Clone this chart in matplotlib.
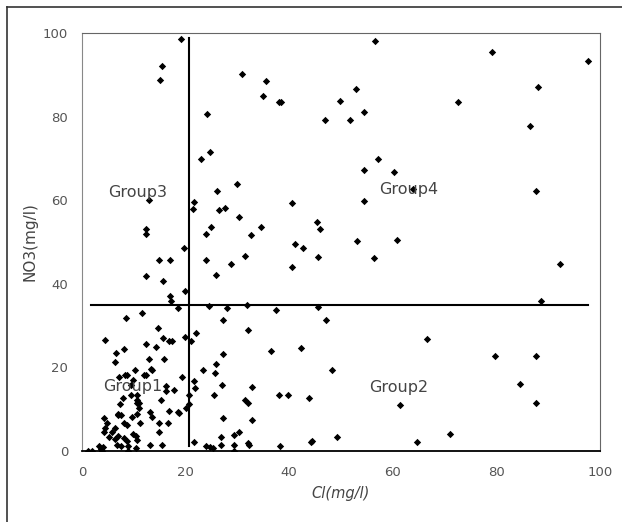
import matplotlib
matplotlib.use("Agg")
import matplotlib.pyplot as plt
from matplotlib.lines import Line2D

# Cl and NO3 concentrations (mg/l) for each sampled well
cl = [19.1, 56.5, 79.2, 97.6, 15.5, 15.1, 30.9, 35.5, 34.9, 38.0, 38.4, 52.9,
      49.8, 72.5, 88.1, 24.2, 54.4, 46.9, 51.8, 86.4, 23.0, 24.7, 57.2, 54.4,
      60.3, 29.9, 26.1, 63.9, 87.7, 13.0, 21.6, 21.4, 26.4, 27.6, 40.5, 54.5,
      12.3, 12.3, 30.4, 24.9, 23.9, 34.6, 32.6, 45.4, 46.0, 53.1, 60.9, 19.6,
      41.2, 42.6, 14.9, 16.9, 23.9, 31.5, 28.7, 45.5, 56.4, 40.5, 92.3, 12.4,
      25.9, 15.6, 19.9, 16.9, 17.2, 88.7,
      18.6, 24.5, 27.9, 31.8, 37.5, 45.6, 11.6, 8.5, 27.3, 47.1, 14.7, 32.1,
      22.1, 4.5, 15.6, 16.8, 17.4, 19.9, 21.0, 66.6, 12.3, 14.2, 8.1, 6.5,
      36.4, 42.2, 27.3, 79.7, 87.6, 6.4, 12.9, 15.9, 25.9, 10.3, 13.3, 13.6,
      23.4, 25.7, 48.3, 7.2, 8.3, 8.6, 11.9, 12.3, 9.9, 19.4, 21.6, 21.9,
      32.9, 84.5, 16.2, 16.3, 17.7, 9.5, 9.4, 10.6, 10.6, 10.6, 8.0, 7.4,
      11.0, 11.1, 20.6, 20.6, 20.0, 25.4, 27.0, 31.4, 32.0, 38.1, 39.8, 43.9,
      61.4, 87.6, 15.2, 16.8, 18.5, 18.7, 13.2, 10.6, 7.0, 6.9, 7.5, 9.6,
      13.6, 4.2, 27.3, 32.9, 4.8, 11.2, 16.7, 14.9, 8.2, 8.7, 6.3, 4.4,
      4.3, 5.8, 6.9, 9.9, 10.5, 10.6, 8.1, 8.6, 14.8, 30.4, 29.4, 26.8,
      49.2, 71.0, 5.2, 6.4, 32.0, 32.2, 21.7, 44.2, 44.5, 64.7, 38.3, 24.0,
      24.7, 25.3, 26.9, 29.3, 13.2, 15.5, 6.7, 7.6, 8.8, 3.3, 4.0, 3.6,
      1.2, 1.9, 3.8, 8.9, 29.3, 10.5]
no3 = [98.6, 98.2, 95.5, 93.2, 92.0, 88.8, 90.3, 88.4, 84.9, 83.5, 83.5, 86.6,
       83.8, 83.5, 87.0, 80.6, 81.2, 79.2, 79.3, 77.8, 69.8, 71.6, 69.8, 67.2,
       66.7, 63.8, 62.1, 62.7, 62.1, 60.0, 59.5, 57.9, 57.6, 58.1, 59.3, 59.8,
       53.1, 52.0, 55.9, 53.5, 51.9, 53.7, 51.7, 54.7, 53.1, 50.3, 50.4, 48.6,
       49.6, 48.6, 45.6, 45.8, 45.6, 46.7, 44.8, 46.5, 46.2, 43.9, 44.8, 41.9,
       42.1, 40.7, 38.3, 37.2, 35.8, 35.8,
       34.2, 34.8, 34.3, 34.9, 33.8, 34.4, 32.9, 31.7, 31.3, 31.3, 29.5, 29.0,
       28.2, 26.5, 27.0, 26.3, 26.3, 27.3, 26.3, 26.8, 25.7, 24.9, 24.3, 23.5,
       23.9, 24.6, 23.2, 22.8, 22.8, 21.4, 22.1, 22.1, 20.8, 19.3, 19.5, 19.3,
       19.3, 18.6, 19.3, 17.6, 18.2, 18.3, 18.1, 18.3, 17.0, 17.7, 16.7, 15.1,
       15.3, 16.1, 15.6, 14.4, 14.5, 15.7, 13.4, 13.3, 12.2, 11.5, 12.6, 11.3,
       11.4, 10.3, 13.3, 11.3, 10.2, 13.5, 15.7, 12.1, 11.6, 13.5, 13.5, 12.6,
       11.0, 11.4, 12.1, 9.6, 9.4, 9.2, 9.4, 8.9, 8.9, 8.5, 8.7, 8.1,
       8.1, 7.8, 7.8, 7.3, 6.6, 6.6, 6.6, 6.6, 6.6, 6.2, 5.6, 5.6,
       4.5, 4.6, 3.7, 4.0, 3.5, 2.7, 3.2, 2.5, 4.5, 4.5, 3.9, 3.4,
       3.4, 4.0, 3.4, 2.8, 2.0, 1.4, 2.1, 2.2, 2.3, 2.1, 1.1, 1.2,
       0.9, 0.8, 1.4, 1.5, 1.5, 1.5, 1.5, 1.2, 1.2, 1.3, 1.0, 0.4,
       0.0, 0.0, 0.0, 0.0, 0.0, 0.7]

# Dividing lines between the four groups
cl_split = 20.6
no3_split = 35.0
vline_span = (1.2, 98.8)
hline_span = (1.8, 97.6)

group_names = ["Group1", "Group2", "Group3", "Group4"]
group_pos_cl = [9.8, 61.1, 10.8, 63.0]
group_pos_no3 = [15.4, 15.3, 61.8, 62.5]

x_ticks = [0, 20, 40, 60, 80, 100]
y_ticks = [0, 20, 40, 60, 80, 100]

fig = plt.figure(figsize=(6.22, 5.22), dpi=100)
ax = fig.add_axes([0.1318, 0.136, 0.8328, 0.8008])

ax.scatter(cl, no3, marker="D", s=14, color="black", linewidths=0, zorder=3)

ax.plot([cl_split, cl_split], vline_span, color="black", lw=1.5, zorder=2)
ax.plot(hline_span, [no3_split, no3_split], color="black", lw=1.5, zorder=2)

for name, gx, gy in zip(group_names, group_pos_cl, group_pos_no3):
    ax.text(gx, gy, name, ha="center", va="center", fontsize=11.5,
            color="#444444", zorder=4)

ax.set_xlim(0, 100)
ax.set_ylim(0, 100)
ax.set_xticks(x_ticks)
ax.set_yticks(y_ticks)
ax.tick_params(length=0, labelsize=9.5, labelcolor="#555555", pad=10)
ax.tick_params(axis="x", pad=11)

ax.spines["bottom"].set_color("black")
ax.spines["bottom"].set_linewidth(1.3)
ax.spines["left"].set_color("#888888")
ax.spines["left"].set_linewidth(0.8)
for side in ("top", "right"):
    ax.spines[side].set_color("#666666")
    ax.spines[side].set_linewidth(0.8)
    ax.spines[side].set_linestyle((0, (1, 1)))

ax.set_xlabel("Cl(mg/l)", fontsize=10.5, color="#444444", style="italic",
              labelpad=5)
ax.set_ylabel("NO3(mg/l)", fontsize=11, color="#444444", labelpad=4)

# Outer frame on the left and top edges of the figure
fig.add_artist(Line2D([7 / 622, 7 / 622], [0, 1 - 7 / 522],
                      transform=fig.transFigure, color="#333333", lw=1.2))
fig.add_artist(Line2D([7 / 622, 1], [1 - 7 / 522, 1 - 7 / 522],
                      transform=fig.transFigure, color="#333333", lw=1.2))

fig.savefig("out.png", dpi=100)
